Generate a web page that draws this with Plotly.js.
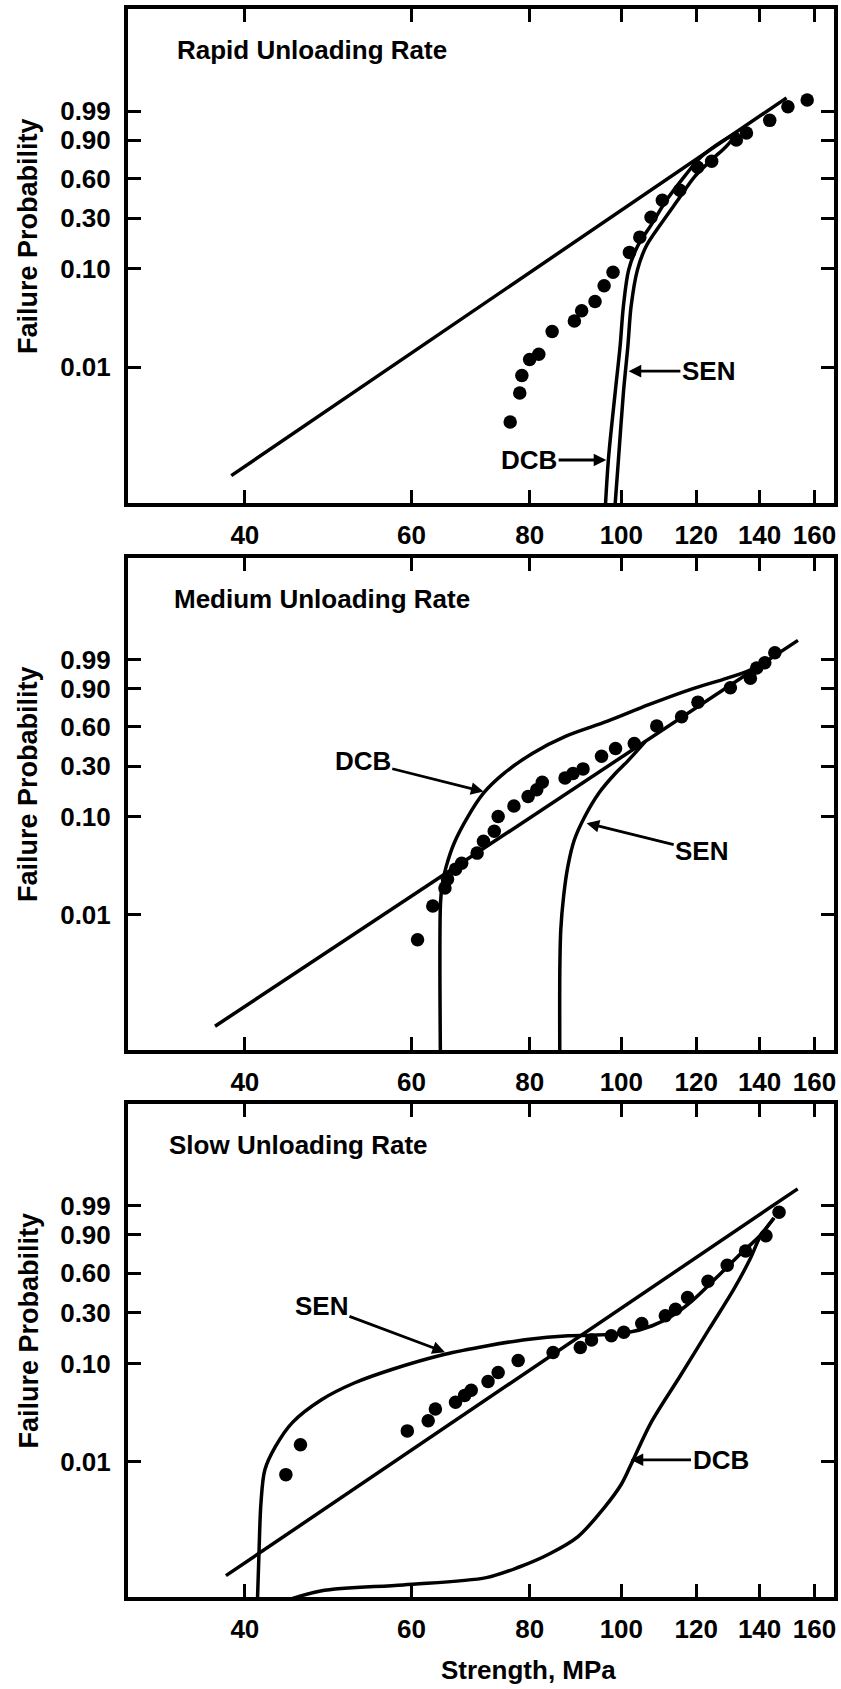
<!DOCTYPE html>
<html><head><meta charset="utf-8">
<script src="https://cdn.plot.ly/plotly-3.0.1.min.js"></script>
<style>html,body{margin:0;padding:0;background:#fff}#chart{width:841px;height:1689px}</style>
</head><body><div id="chart"></div>
<script>
// ---------- tick labels ----------
const probTicks = [0.01, 0.10, 0.30, 0.60, 0.90, 0.99];
const probTickText = ['0.01', '0.10', '0.30', '0.60', '0.90', '0.99'];
const strengthTicks = [40, 60, 80, 100, 120, 140, 160];
const strengthTickText = ['40', '60', '80', '100', '120', '140', '160'];
const panelTitles = ['Rapid Unloading Rate', 'Medium Unloading Rate', 'Slow Unloading Rate'];

// ---------- Rapid unloading rate ----------
const rapidPtsMPa = [76.3, 78.1, 78.5, 80.0, 81.8, 84.5, 89.2, 90.8, 93.8, 95.9, 98.0, 102.0, 104.6, 107.5, 110.5, 115.3, 120.4, 124.6, 132.3, 135.6, 143.5, 150.0, 157.2];
const rapidPtsF   = [0.0027, 0.0054, 0.0082, 0.0120, 0.0136, 0.0233, 0.0299, 0.0380, 0.0473, 0.0682, 0.0927, 0.145, 0.202, 0.305, 0.42, 0.50, 0.70, 0.75, 0.90, 0.935, 0.975, 0.994, 0.9975];
const rapidFitMPa = [38.7, 149.5];
const rapidFitF   = [0.00075, 0.9982];
const rapidDcbMPa = [96.0, 96.9, 98.5, 99.7, 100.5, 101.8, 104.0, 107.5, 111.6, 116.9, 121.0, 126.0, 132.0];
const rapidDcbF   = [0.00025, 0.0011, 0.0054, 0.0164, 0.042, 0.098, 0.165, 0.26, 0.42, 0.63, 0.775, 0.87, 0.934];
const rapidSenMPa = [98.2, 99.3, 100.5, 101.6, 102.4, 104.0, 106.2, 109.9, 114.7, 119.6, 124.7, 129.0, 133.0];
const rapidSenF   = [0.00025, 0.0011, 0.0054, 0.0164, 0.042, 0.098, 0.165, 0.26, 0.42, 0.62, 0.765, 0.86, 0.935];

// ---------- Medium unloading rate ----------
const mediumPtsMPa = [60.9, 63.2, 65.1, 65.5, 66.8, 67.8, 70.4, 71.5, 73.4, 74.1, 77.0, 79.7, 81.4, 82.5, 87.2, 88.9, 91.1, 95.3, 98.6, 103.2, 109.0, 115.8, 120.5, 130.4, 136.9, 139.0, 141.8, 145.3];
const mediumPtsF   = [0.0055, 0.0123, 0.0189, 0.0233, 0.0296, 0.0341, 0.0432, 0.057, 0.072, 0.101, 0.128, 0.158, 0.183, 0.215, 0.235, 0.258, 0.284, 0.364, 0.42, 0.46, 0.607, 0.69, 0.81, 0.904, 0.948, 0.977, 0.986, 0.9956];
const mediumFitMPa = [37.2, 153.7];
const mediumFitF   = [0.00069, 0.99934];
const mediumDcbMPa = [64.4, 64.4, 64.7, 65.3, 66.6, 68.7, 71.5, 75.2, 80.6, 87.4, 96.7, 106.9, 118.2, 129.4, 136.0, 141.0];
const mediumDcbF   = [0.00025, 0.0132, 0.0213, 0.0316, 0.0551, 0.0975, 0.170, 0.260, 0.386, 0.52, 0.65, 0.79, 0.894, 0.948, 0.970, 0.984];
const mediumSenMPa = [86.1, 86.1, 86.3, 86.9, 87.8, 89.2, 91.5, 94.7, 98.6, 101.5, 106.0];
const mediumSenF   = [0.00025, 0.0027, 0.0070, 0.0156, 0.0316, 0.0590, 0.101, 0.171, 0.26, 0.33, 0.474];

// ---------- Slow unloading rate ----------
const slowPtsMPa = [44.2, 45.8, 59.4, 62.5, 63.6, 66.8, 68.3, 69.4, 72.3, 74.1, 77.8, 84.7, 90.5, 93.0, 97.6, 100.6, 105.1, 111.3, 114.1, 117.5, 123.5, 129.4, 135.3, 142.2, 146.8];
const slowPtsF   = [0.0073, 0.0149, 0.0207, 0.0263, 0.0347, 0.0408, 0.0478, 0.0539, 0.0659, 0.0813, 0.107, 0.128, 0.143, 0.169, 0.185, 0.20, 0.24, 0.281, 0.32, 0.40, 0.53, 0.67, 0.79, 0.895, 0.981];
const slowFitMPa = [38.2, 153.6];
const slowFitF   = [0.00065, 0.99902];
const slowSenMPa = [41.2, 41.4, 41.6, 42.0, 43.1, 44.9, 48.2, 52.2, 57.3, 65.1, 72.0, 79.5, 87.9, 93.1, 101.5, 107.8, 113.2, 118.8, 126.0, 133.6, 140.1, 145.0];
const slowSenF   = [0.00025, 0.0011, 0.0037, 0.0082, 0.0143, 0.0252, 0.0432, 0.0638, 0.0876, 0.123, 0.148, 0.171, 0.185, 0.187, 0.198, 0.229, 0.281, 0.376, 0.56, 0.766, 0.895, 0.968];
const slowDcbMPa = [42.0, 48.1, 58.8, 72.0, 78.0, 84.0, 90.0, 95.9, 100.0, 102.6, 107.5, 115.4, 123.8, 131.5, 136.8, 140.1, 145.0];
const slowDcbF   = [0.00030, 0.00045, 0.00052, 0.00062, 0.00080, 0.0011, 0.00166, 0.0033, 0.0058, 0.0097, 0.0252, 0.075, 0.213, 0.465, 0.724, 0.885, 0.968];

// ---------- curve labels: [text, label MPa, label F, arrow-tip MPa, arrow-tip F] ----------
const rapidLabels  = [['DCB', 79.9, 0.00109, 96.4, 0.00109], ['SEN', 123.6, 0.0091, 101.8, 0.0091]];
const mediumLabels = [['DCB', 53.3, 0.330, 71.5, 0.176], ['SEN', 121.6, 0.0449, 91.9, 0.0867]];
const slowLabels   = [['SEN', 48.2, 0.342, 65.1, 0.129], ['DCB', 127.3, 0.0104, 102.3, 0.0104]];

// Weibull probability scale: ln(ln(1/(1-F)))
function weib(F) { return Math.log(-Math.log(1 - F)); }

const FONT = 'Liberation Sans, Arial, Helvetica, sans-serif';
const W = 841, H = 1689;
const frameX = [128, 834];
const frameY = [[9, 503], [558, 1050], [1104, 1597]];
const yRange = [-7.85, 3.97];

const panels = [
  {pts: [rapidPtsMPa, rapidPtsF], fit: [rapidFitMPa, rapidFitF], dcb: [rapidDcbMPa, rapidDcbF], sen: [rapidSenMPa, rapidSenF], labels: rapidLabels},
  {pts: [mediumPtsMPa, mediumPtsF], fit: [mediumFitMPa, mediumFitF], dcb: [mediumDcbMPa, mediumDcbF], sen: [mediumSenMPa, mediumSenF], labels: mediumLabels},
  {pts: [slowPtsMPa, slowPtsF], fit: [slowFitMPa, slowFitF], dcb: [slowDcbMPa, slowDcbF], sen: [slowSenMPa, slowSenF], labels: slowLabels}
];

const traces = [];
const layout = {
  width: W, height: H,
  margin: {l: 0, r: 0, t: 0, b: 0},
  paper_bgcolor: '#fff', plot_bgcolor: '#fff',
  showlegend: false,
  font: {family: FONT, color: '#000'},
  annotations: []
};

const boldFont = (size) => ({family: FONT, size: size, color: '#000', weight: 'bold'});
const tickFont = boldFont(26);
const lineStyle = {color: '#000', width: 3.5};
const curveStyle = {color: '#000', width: 3.5, shape: 'spline', smoothing: 0.9};

panels.forEach((p, i) => {
  const sfx = i === 0 ? '' : String(i + 1);
  const xa = 'x' + sfx, ya = 'y' + sfx;
  const base = {xaxis: xa, yaxis: ya, hoverinfo: 'skip', cliponaxis: true};
  traces.push(Object.assign({type: 'scatter', mode: 'lines', x: p.fit[0], y: p.fit[1].map(weib), line: lineStyle, name: 'Weibull fit'}, base));
  traces.push(Object.assign({type: 'scatter', mode: 'lines', x: p.dcb[0], y: p.dcb[1].map(weib), line: curveStyle, name: 'DCB'}, base));
  traces.push(Object.assign({type: 'scatter', mode: 'lines', x: p.sen[0], y: p.sen[1].map(weib), line: curveStyle, name: 'SEN'}, base));
  traces.push(Object.assign({type: 'scatter', mode: 'markers', x: p.pts[0], y: p.pts[1].map(weib), marker: {color: '#000', size: 13.5}, name: 'data'}, base));

  const [top, bot] = frameY[i];
  layout['xaxis' + sfx] = {
    type: 'log', range: [Math.log10(30.1), Math.log10(167.8)],
    domain: [frameX[0] / W, frameX[1] / W], anchor: ya,
    tickmode: 'array', tickvals: strengthTicks, ticktext: strengthTickText,
    ticks: 'inside', ticklen: 13, tickwidth: 3, tickcolor: '#000',
    showline: true, linewidth: 4, linecolor: '#000', mirror: 'ticks',
    showgrid: false, zeroline: false, tickfont: tickFont, ticklabelstandoff: 6
  };
  layout['yaxis' + sfx] = {
    range: yRange, domain: [1 - bot / H, 1 - top / H], anchor: xa,
    tickmode: 'array', tickvals: probTicks.map(weib), ticktext: probTickText,
    ticks: 'inside', ticklen: 13, tickwidth: 3, tickcolor: '#000',
    showline: true, linewidth: 4, linecolor: '#000', mirror: 'ticks',
    showgrid: false, zeroline: false, tickfont: tickFont, ticklabelstandoff: 8
  };

  // panel title
  layout.annotations.push({
    xref: 'paper', yref: 'paper', x: [175, 172, 167][i] / W, y: 1 - (top + 41) / H,
    xanchor: 'left', yanchor: 'middle', showarrow: false,
    text: panelTitles[i], font: boldFont(26)
  });
  // y axis title
  layout.annotations.push({
    xref: 'paper', yref: 'paper', x: 28 / W, y: 1 - ((top + bot) / 2 - 20) / H,
    xanchor: 'center', yanchor: 'middle', showarrow: false, textangle: -90,
    text: 'Failure Probability', font: boldFont(27)
  });
  // curve labels with leader arrows
  p.labels.forEach(l => {
    layout.annotations.push({
      xref: xa, yref: ya, axref: xa, ayref: ya,
      x: Math.log10(l[3]), y: weib(l[4]), ax: Math.log10(l[1]), ay: weib(l[2]),
      text: l[0], showarrow: true, arrowhead: 2, arrowsize: 0.9, arrowwidth: 2.8, arrowcolor: '#000',
      font: boldFont(26)
    });
  });
});

layout.annotations.push({
  xref: 'paper', yref: 'paper', x: 528 / W, y: 1 - 1670 / H,
  xanchor: 'center', yanchor: 'middle', showarrow: false,
  text: 'Strength, MPa', font: boldFont(26)
});

Plotly.newPlot('chart', traces, layout, {staticPlot: true, displayModeBar: false});
</script></body></html>
